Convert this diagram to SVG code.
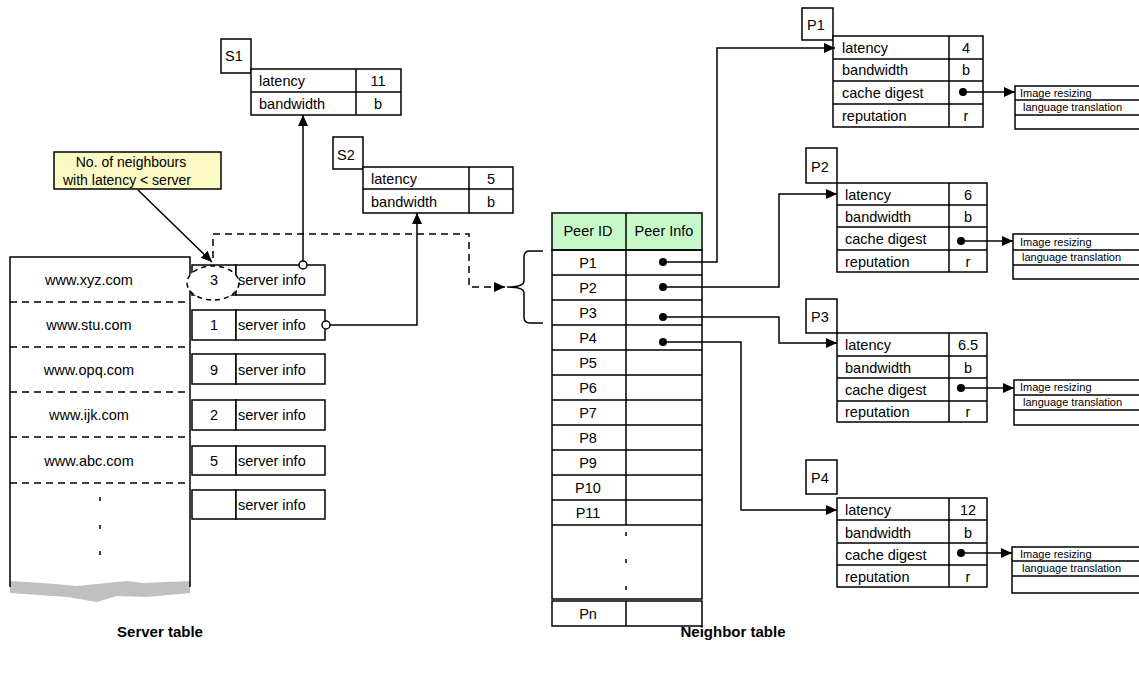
<svg xmlns="http://www.w3.org/2000/svg" width="1139" height="675" viewBox="0 0 1139 675">
<style>
text{font-family:"Liberation Sans",Arial,sans-serif;font-size:14.5px;fill:#000}
.c{text-anchor:middle}
.s{font-size:11px}
.n{font-size:14px}
.b{font-weight:bold;font-size:15px}
.box{fill:#fff;stroke:#000;stroke-width:1.5}
.ln{fill:none;stroke:#000;stroke-width:1.5}
.dash{fill:none;stroke:#000;stroke-width:1.5;stroke-dasharray:7 5}
.con{fill:none;stroke:#000;stroke-width:1.5}
</style>
<defs>
<marker id="ah" markerUnits="userSpaceOnUse" markerWidth="11" markerHeight="10" refX="11" refY="5" orient="auto">
<path d="M0,0 L11,5 L0,10 z" fill="#000"/>
</marker>
</defs>
<rect width="1139" height="675" fill="#fff"/>

<g id="server-table">
<path d="M10,581 L43,583 L77,586 L127,581 L143,583 L190,581 L190,593 L147,597 L117,596 L97,602 L67,597 L10,593 z" fill="#c0c0c0"/>
<path class="ln" d="M10,587 V257 H190 V587"/>
<path class="dash" d="M10,302 H190 M10,347 H190 M10,392 H190 M10,437 H190 M10,483 H190"/>
<text class="c" x="89" y="285">www.xyz.com</text>
<text class="c" x="89" y="330">www.stu.com</text>
<text class="c" x="89" y="375">www.opq.com</text>
<text class="c" x="89" y="420">www.ijk.com</text>
<text class="c" x="89" y="466">www.abc.com</text>
<path class="ln" d="M100,497 V501 M100,525 V529 M100,551 V555"/>
</g>

<g id="server-rows">
<rect class="box" x="192" y="265" width="44" height="30"/><rect class="box" x="236" y="265" width="89" height="30"/>
<rect class="box" x="192" y="310" width="44" height="30"/><rect class="box" x="236" y="310" width="89" height="30"/>
<rect class="box" x="192" y="354" width="44" height="30"/><rect class="box" x="236" y="354" width="89" height="30"/>
<rect class="box" x="192" y="400" width="44" height="30"/><rect class="box" x="236" y="400" width="89" height="30"/>
<rect class="box" x="192" y="446" width="44" height="29"/><rect class="box" x="236" y="446" width="89" height="29"/>
<rect class="box" x="192" y="490" width="44" height="29"/><rect class="box" x="236" y="490" width="89" height="29"/>
<ellipse cx="213" cy="283" rx="26" ry="17" fill="#fff" stroke="#000" stroke-width="1.5" stroke-dasharray="5 4"/>
<text class="c" x="214" y="285">3</text>
<text class="c" x="214" y="330">1</text>
<text class="c" x="214" y="375">9</text>
<text class="c" x="214" y="420">2</text>
<text class="c" x="214" y="466">5</text>
<text x="238" y="285">server info</text>
<text x="238" y="330">server info</text>
<text x="238" y="375">server info</text>
<text x="238" y="420">server info</text>
<text x="238" y="466">server info</text>
<text x="238" y="510">server info</text>
</g>

<g id="note">
<rect x="54" y="152" width="167" height="37" fill="#fbfac4" stroke="#000" stroke-width="1.5"/>
<text class="c n" x="131" y="167">No. of neighbours</text>
<text class="c n" x="127" y="185">with latency &lt; server</text>
</g>

<g id="S1">
<rect class="box" x="221" y="39" width="30" height="34"/>
<text x="225" y="61">S1</text>
<rect class="box" x="251" y="69" width="150" height="46"/>
<path class="ln" d="M251,92 H401 M356,69 V115"/>
<text x="259" y="86">latency</text>
<text class="c" x="378" y="86">11</text>
<text x="259" y="109">bandwidth</text>
<text class="c" x="378" y="109">b</text>
</g>

<g id="S2">
<rect class="box" x="333" y="137" width="30" height="32"/>
<text x="337" y="160">S2</text>
<rect class="box" x="363" y="167" width="150" height="46"/>
<path class="ln" d="M363,189 H513 M469,167 V213"/>
<text x="371" y="184">latency</text>
<text class="c" x="491" y="184">5</text>
<text x="371" y="207">bandwidth</text>
<text class="c" x="491" y="207">b</text>
</g>

<g id="neighbor-table">
<rect x="552" y="213" width="150" height="37" fill="#c8f9c8" stroke="#000" stroke-width="1.5"/>
<path class="ln" d="M552,250 H702 V599 H552 z M552,601 H702 V626 H552 z"/>
<path class="ln" d="M626,213 V525 M626,601 V626 M552,275 H702 M552,300 H702 M552,325 H702 M552,350 H702 M552,375 H702 M552,400 H702 M552,425 H702 M552,450 H702 M552,475 H702 M552,500 H702 M552,525 H702"/>
<path class="ln" d="M626,532 V536 M626,559 V563 M626,586 V590"/>
<text class="c" x="588" y="236">Peer ID</text>
<text class="c" x="664" y="236">Peer Info</text>
<text class="c" x="588" y="268">P1</text>
<text class="c" x="588" y="293">P2</text>
<text class="c" x="588" y="318">P3</text>
<text class="c" x="588" y="343">P4</text>
<text class="c" x="588" y="368">P5</text>
<text class="c" x="588" y="393">P6</text>
<text class="c" x="588" y="418">P7</text>
<text class="c" x="588" y="443">P8</text>
<text class="c" x="588" y="468">P9</text>
<text class="c" x="588" y="493">P10</text>
<text class="c" x="588" y="518">P11</text>
<text class="c" x="588" y="619">Pn</text>
<circle cx="663" cy="262" r="4"/>
<circle cx="663" cy="287" r="4"/>
<circle cx="663" cy="317" r="4"/>
<circle cx="663" cy="342" r="4"/>
<path class="ln" d="M543,251 H530 Q524,251 524,257 V281 Q524,287 507,287 Q524,287 524,293 V317 Q524,323 530,323 H543"/>
</g>

<g id="P1">
<rect class="box" x="802" y="8" width="31" height="32"/>
<text x="807" y="30">P1</text>
<rect class="box" x="833" y="36" width="150" height="91"/>
<path class="ln" d="M833,59 H983 M833,81 H983 M833,104 H983 M949,36 V127"/>
<text x="842" y="53">latency</text><text class="c" x="966" y="53">4</text>
<text x="842" y="75">bandwidth</text><text class="c" x="966" y="75">b</text>
<text x="842" y="98">cache digest</text>
<text x="842" y="121">reputation</text><text class="c" x="966" y="121">r</text>
<circle cx="963" cy="92" r="4"/>
<path class="ln" d="M1015,86 H1145 V129 H1015 z M1015,100 H1145 M1015,115 H1145"/>
<text class="s" x="1020" y="97">Image resizing</text>
<text class="s" x="1023" y="111">language translation</text>
</g>

<g id="P2">
<rect class="box" x="806" y="148" width="31" height="35"/>
<text x="811" y="172">P2</text>
<rect class="box" x="837" y="183" width="150" height="89"/>
<path class="ln" d="M837,205 H987 M837,227 H987 M837,250 H987 M949,183 V272"/>
<text x="845" y="200">latency</text><text class="c" x="968" y="200">6</text>
<text x="845" y="222">bandwidth</text><text class="c" x="968" y="222">b</text>
<text x="845" y="244">cache digest</text>
<text x="845" y="267">reputation</text><text class="c" x="968" y="267">r</text>
<circle cx="961" cy="241" r="4"/>
<path class="ln" d="M1013,234 H1145 V279 H1013 z M1013,250 H1145 M1013,265 H1145"/>
<text class="s" x="1020" y="246">Image resizing</text>
<text class="s" x="1022" y="261">language translation</text>
</g>

<g id="P3">
<rect class="box" x="806" y="299" width="31" height="34"/>
<text x="811" y="322">P3</text>
<rect class="box" x="837" y="333" width="150" height="89"/>
<path class="ln" d="M837,356 H987 M837,378 H987 M837,401 H987 M949,333 V422"/>
<text x="845" y="350">latency</text><text class="c" x="968" y="350">6.5</text>
<text x="845" y="373">bandwidth</text><text class="c" x="968" y="373">b</text>
<text x="845" y="395">cache digest</text>
<text x="845" y="417">reputation</text><text class="c" x="968" y="417">r</text>
<circle cx="961" cy="388" r="4"/>
<path class="ln" d="M1014,380 H1145 V425 H1014 z M1014,395 H1145 M1014,410 H1145"/>
<text class="s" x="1020" y="391">Image resizing</text>
<text class="s" x="1023" y="406">language translation</text>
</g>

<g id="P4">
<rect class="box" x="806" y="460" width="31" height="34"/>
<text x="811" y="483">P4</text>
<rect class="box" x="837" y="498" width="150" height="89"/>
<path class="ln" d="M837,520 H987 M837,543 H987 M837,565 H987 M949,498 V587"/>
<text x="845" y="515">latency</text><text class="c" x="968" y="515">12</text>
<text x="845" y="538">bandwidth</text><text class="c" x="968" y="538">b</text>
<text x="845" y="560">cache digest</text>
<text x="845" y="582">reputation</text><text class="c" x="968" y="582">r</text>
<circle cx="961" cy="553" r="4"/>
<path class="ln" d="M1012,547 H1145 V593 H1012 z M1012,561 H1145 M1012,576 H1145"/>
<text class="s" x="1020" y="558">Image resizing</text>
<text class="s" x="1022" y="572">language translation</text>
</g>

<g id="connectors">
<path class="con" d="M138,190 L212,262" marker-end="url(#ah)"/>
<path class="dash" d="M213,258 V234 H469 V287 H495" stroke-dasharray="6 5"/>
<path class="con" d="M495,287 H505" marker-end="url(#ah)"/>
<path class="con" d="M303,261 V115" marker-end="url(#ah)"/>
<circle cx="303" cy="265" r="4" fill="#fff" stroke="#000" stroke-width="1.5"/>
<path class="con" d="M330,325 H417 V213" marker-end="url(#ah)"/>
<circle cx="326" cy="325" r="4" fill="#fff" stroke="#000" stroke-width="1.5"/>
<path class="con" d="M663,262 H717 V48 H835" marker-end="url(#ah)"/>
<path class="con" d="M663,287 H779 V194 H837" marker-end="url(#ah)"/>
<path class="con" d="M663,317 H779 V343 H837" marker-end="url(#ah)"/>
<path class="con" d="M663,342 H741 V510 H837" marker-end="url(#ah)"/>
<path class="con" d="M963,92 H1015" marker-end="url(#ah)"/>
<path class="con" d="M961,241 H1013" marker-end="url(#ah)"/>
<path class="con" d="M961,388 H1014" marker-end="url(#ah)"/>
<path class="con" d="M961,553 H1012" marker-end="url(#ah)"/>
</g>

<g id="captions">
<text class="b c" x="160" y="637">Server table</text>
<text class="b c" x="733" y="637">Neighbor table</text>
</g>
</svg>
